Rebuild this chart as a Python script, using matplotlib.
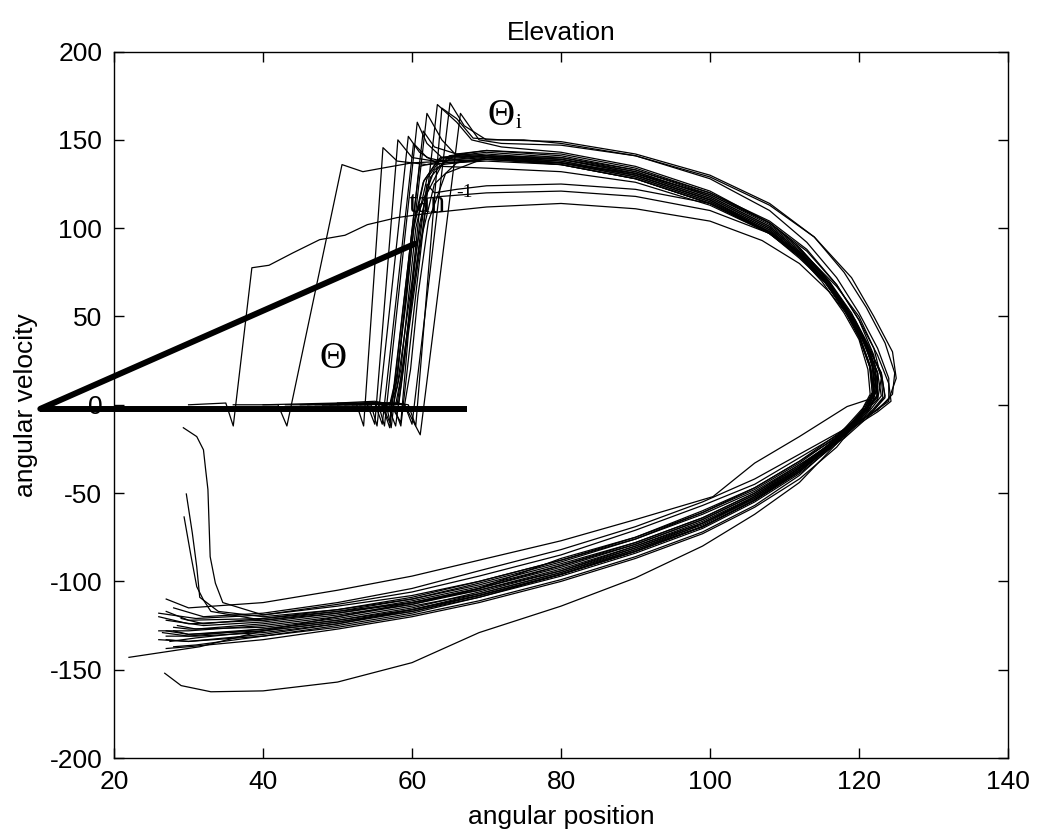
import matplotlib
matplotlib.use("Agg")
import matplotlib.pyplot as plt

# Elevation phase plot: angular position vs angular velocity, one line per trial

pos_01 = [52, 56, 57.5, 58.5, 59.5, 60.5, 62, 64, 70, 80, 90, 100, 108, 112, 115, 118, 120, 121.5, 122, 121, 117, 112, 106, 99, 90, 80, 69, 60, 50, 40, 30, 28]
vel_01 = [1, 1, 0, 20, 60, 100, 128, 140, 142, 139, 131, 117, 100, 86, 73, 55, 40, 22, 8, -2, -20, -37, -53, -68, -81, -95, -107, -114, -121, -126, -127, -126]

pos_02 = [48, 55, 57, 58, 59, 60, 61.5, 63.5, 70, 80, 90, 100, 108, 112.5, 115.5, 118.5, 120.5, 122, 122.5, 121.3, 117, 112, 106, 99, 90, 80, 69, 60, 50, 40, 31, 27]
vel_02 = [0, 1, -1, 15, 55, 98, 126, 139, 141, 137, 129, 115, 98, 84, 71, 53, 38, 20, 6, -3, -22, -39, -55, -70, -84, -97, -109, -117, -124, -129, -131, -131]

pos_03 = [50, 55, 57.5, 58.5, 63.4, 66, 68, 72, 80, 90, 100, 108, 112, 116, 119, 121, 123, 123.5, 122, 118, 112, 106, 99, 90, 80, 69, 60, 50, 40, 32, 27]
vel_03 = [1, 2, 0, -12, 170, 160, 150, 146, 143, 135, 121, 103, 89, 70, 50, 35, 18, 5, -3, -18, -35, -50, -64, -78, -91, -103, -111, -118, -123, -125, -122]

pos_04 = [53, 57, 59, 60, 65.1, 67, 70, 75, 80, 90, 100, 108, 113, 117, 120, 122.5, 124, 124, 122, 118, 112, 106, 99, 90, 80, 69, 60, 50, 40, 31, 26]
vel_04 = [0, 1, 0, -11, 171, 158, 150, 150, 148, 141, 128, 110, 92, 72, 52, 32, 15, 2, -4, -19, -34, -49, -62, -76, -88, -100, -108, -114, -119, -121, -118]

pos_05 = [47, 54, 56.5, 57.2, 62, 64, 66, 70, 80, 90, 100, 107, 112, 116, 119, 121, 122.5, 122.5, 121, 117, 112, 106, 99, 90, 80, 69, 60, 50, 40, 30, 27]
vel_05 = [0, 0, 1, -13, 165, 150, 141, 140, 137, 130, 116, 100, 84, 67, 50, 34, 18, 4, -2, -21, -40, -57, -72, -86, -99, -111, -119, -126, -131, -134, -133]

pos_06 = [45, 52, 55.5, 56.3, 60.7, 62, 64, 70, 80, 90, 100, 108, 112, 115, 118, 120, 121.8, 122, 120.8, 117, 112, 106, 99, 90, 80, 69, 60, 50, 40, 30, 26]
vel_06 = [0, 1, 0, -12, 160, 148, 140, 141, 139, 132, 118, 101, 87, 74, 56, 41, 23, 8, -2, -19, -36, -52, -66, -80, -93, -105, -113, -120, -125, -128, -128]

pos_07 = [40, 50, 54, 55, 58.1, 60, 63, 70, 80, 90, 100, 108, 112, 115, 118, 120, 121.5, 121.8, 120.6, 117, 112, 106, 99, 90, 80, 69, 60, 50, 40, 30, 28]
vel_07 = [0, 1, 0, -11, 150, 140, 138, 140, 138, 130, 116, 99, 85, 72, 54, 39, 21, 7, -2, -21, -38, -54, -69, -83, -96, -108, -116, -122, -127, -130, -128]

pos_08 = [43, 50, 52.5, 53.5, 56.1, 58, 62, 70, 80, 90, 100, 108, 112, 115, 118, 120, 121.2, 121.5, 120.5, 116, 110, 104, 97, 90, 80, 69, 60, 50, 40, 31, 28]
vel_08 = [0, 0, 1, -12, 145.6, 138, 136, 139, 137, 129, 115, 98, 84, 70, 52, 37, 20, 6, -2, -23, -42, -57, -71, -82, -96, -109, -118, -125, -131, -136, -137]

pos_09 = [36, 42, 43.2, 50.6, 53.4, 56, 60, 65, 70, 80, 90, 100, 108, 113, 117, 120, 122, 122.5, 121.5, 117, 112, 106, 99, 90, 80, 69, 60, 50, 40, 32, 29]
vel_09 = [0, 0, -12, 136, 132, 134, 137, 138, 139, 137, 131, 119, 103, 87, 68, 48, 28, 10, -2, -17, -32, -47, -60, -75, -88, -100, -109, -116, -121, -124, -121]

pos_10 = [30, 35, 36, 38.5, 40.8, 44, 47.6, 51, 54, 58, 62.8, 70, 80, 90, 100, 107, 112, 116, 119, 121, 122.5, 122.5, 121, 117, 112, 106, 99, 90, 80, 69, 60, 50, 40, 31.5, 22]
vel_10 = [0, 1, -12, 77.6, 79, 86, 93.5, 96, 102, 106, 108.8, 112, 114, 111, 104, 93, 80, 64, 48, 33, 18, 5, -2, -18, -33, -48, -61, -75, -87, -104, -112, -120, -128, -137, -143]

pos_11 = [50, 55, 56.8, 57.8, 62, 63, 66, 70, 80, 90, 100, 107, 112, 116, 119, 121, 123, 123.5, 122, 118, 112, 106, 99, 90, 80, 69, 60, 50, 40, 30, 26]
vel_11 = [0, 1, -1, -12, 125, 120, 122, 124, 125, 122, 114, 100, 86, 68, 50, 34, 18, 4, -3, -17, -34, -50, -64, -78, -90, -102, -110, -117, -122, -124, -120]

pos_12 = [52, 56, 58, 59, 61, 63, 66, 70, 80, 90, 100, 108, 112, 115, 118, 120, 121.5, 122, 121, 117, 112, 106, 99, 90, 80, 69, 60, 50, 40, 33, 29, 26.8]
vel_12 = [0, 1, 0, 30, 90, 125, 137, 140, 136, 128, 114, 98, 85, 72, 54, 38, 21, 7, -3, -22, -44, -62, -80, -98, -114, -129, -146, -157, -162, -162.5, -159, -152]

pos_13 = [55, 59, 61.1, 66.5, 69, 72, 80, 90, 100, 108, 114, 119, 122, 124.5, 125, 124, 122, 118, 112, 106, 99, 90, 80, 69, 60, 50, 40, 34.6, 33.6, 32.9, 32.6, 32.3, 32, 31.1, 29.3]
vel_13 = [1, 0, -17, 165, 150, 148, 147, 141, 129, 113, 95, 72, 50, 30, 15, 3, -4, -15, -30, -45, -57, -71, -85, -97, -106, -113, -119, -112, -101, -86, -48, -37, -25.5, -18, -13]

pos_14 = [49, 54, 56, 57, 61, 64, 70, 80, 90, 100, 108, 113, 117, 120, 122.5, 124, 124.3, 122.5, 118, 112, 106, 99, 90, 80, 69, 60, 50, 40, 34, 31.5, 31.1, 30.5, 29.7]
vel_14 = [0, 1, 0, -10, 135, 138, 141, 140, 133, 120, 104, 88, 68, 48, 28, 12, 2, -4, -16, -32, -47, -61, -76, -89, -101, -110, -116, -120, -117, -109, -91.8, -72.5, -50.5]

pos_15 = [51, 55.5, 57, 58, 60, 61, 63, 66, 70, 80, 90, 100, 108, 112, 116, 119, 121, 122.5, 123, 121.5, 117, 112, 106, 99, 90, 80, 69, 60, 50, 40, 33, 32, 31.1, 30.3, 29.4]
vel_15 = [0, 1, 0, 10, 70, 110, 133, 142, 144, 141, 133, 119, 102, 88, 70, 52, 35, 18, 5, -3, -19, -36, -51, -65, -79, -92, -104, -112, -118, -122, -117, -110.5, -103, -85, -63.5]

pos_16 = [54, 58, 59.5, 60.5, 64, 66, 68.2, 72, 80, 90, 100, 108, 114, 118, 121, 123.5, 124.8, 124.5, 122.5, 118, 112, 106, 99, 90, 80, 69, 60, 50, 40, 32, 28]
vel_16 = [0, 1, 0, -12, 168, 162, 151, 150, 149, 142, 130, 114, 95, 75, 55, 35, 18, 6, -3, -14, -28, -42, -55, -69, -82, -94, -104, -112, -118, -120, -115]

pos_17 = [53, 57, 58.2, 59, 60.3, 61.8, 64, 70, 80, 90, 100, 108, 112, 116, 119, 121, 122.3, 122, 118.4, 112, 106, 100.4, 90, 80, 69, 60, 50, 40, 30, 27]
vel_17 = [0, 1, 0, 25, 80, 118, 136, 139, 136, 128, 114, 97, 83, 67, 50, 33, 15, 4, -1, -18, -33, -52, -65, -77, -88, -97, -105, -112, -115, -110]

pos_18 = [52, 57, 58.5, 59.5, 62, 64, 70, 80, 90, 100, 108, 113, 117, 120, 122, 123, 122.5, 121, 117, 112, 106, 99, 90, 80, 69, 60, 50, 40, 31, 27.5]
vel_18 = [0, 1, -10, 40, 117, 118, 120, 121, 118, 110, 97, 84, 67, 50, 32, 15, 3, -3, -20, -38, -54, -69, -83, -96, -108, -117, -123, -128, -132, -134]

pos_19 = [50, 55, 57, 58, 59.2, 60.2, 61.6, 63.8, 70, 80, 90, 100, 108, 112, 115.5, 118.5, 120.5, 121.8, 122.2, 121, 117, 112, 106, 99, 90, 80, 69, 60, 50, 40, 30, 27]
vel_19 = [0, 1, 0, 18, 58, 99, 127, 140, 143, 140, 132, 118, 101, 87, 72, 54, 39, 21, 7, -2, -21, -38, -54, -69, -83, -96, -108, -116, -123, -128, -130, -128]

pos_20 = [49, 54, 56, 57, 61.5, 63, 66, 70, 80, 90, 100, 108, 112, 115, 118, 120, 121.6, 122, 121, 117, 112, 106, 99, 90, 80, 69, 60, 50, 40, 30, 26.5]
vel_20 = [0, 1, 0, -13, 155, 146, 142, 141, 138, 130, 116, 99, 85, 72, 54, 39, 21, 7, -2, -20, -36, -52, -67, -80, -94, -106, -115, -122, -127, -131, -129]

pos_21 = [46, 52, 54.5, 55.3, 59.5, 61, 64, 70, 80, 90, 100, 108, 113, 116.5, 119.5, 121.5, 123, 123.2, 121.8, 117, 112, 106, 99, 90, 80, 69, 60, 50, 40, 31, 28.5]
vel_21 = [0, 1, 0, -12, 152, 143, 135, 134, 132, 126, 113, 97, 81, 66, 48, 32, 16, 4, -3, -19, -35, -51, -65, -79, -91, -104, -113, -119, -124, -127, -125]

pos_22 = [51, 56, 57.8, 58.8, 60, 61, 62.5, 65, 70, 80, 90, 100, 108, 112, 115, 118, 120.3, 121.8, 122.3, 121.2, 117, 112, 106, 99, 90, 80, 69, 60, 50, 40, 30, 27]
vel_22 = [0, 1, 0, 22, 65, 102, 129, 141, 144, 142, 134, 120, 103, 89, 75, 57, 41, 23, 8, -2, -24, -42, -58, -73, -87, -100, -112, -120, -127, -133, -137, -138]

pos_23 = [48, 53, 55, 56, 60.2, 62, 65, 70, 80, 90, 100, 108, 112, 115.5, 118.5, 120.8, 122.2, 122.4, 121, 117, 112, 106, 99, 90, 80, 69, 60, 50, 40, 30, 27]
vel_23 = [0, 0, 1, -11, 148, 140, 137, 138, 136, 128, 114, 97, 84, 70, 52, 36, 19, 5, -2, -20, -37, -53, -67, -81, -94, -105, -112, -117, -121, -122, -117]

pos_24 = [54, 58, 59, 59.8, 60.8, 62.2, 64.5, 70, 80, 90, 100, 108, 112, 115, 118, 120, 121.4, 121.8, 120.8, 117, 112, 106, 99, 90, 80, 69, 60, 50, 40, 30, 26]
vel_24 = [0, 1, 0, 20, 62, 104, 131, 140, 139, 131, 117, 100, 86, 72, 55, 39, 22, 7, -2, -21, -37, -54, -69, -82, -95, -107, -116, -124, -130, -134, -133]

# hand-drawn construction lines (angle drawn over the plot)
guide_base_x = [10.1, 67.4]
guide_base_y = [-2.3, -2.3]
guide_slope_x = [10.1, 60.4]
guide_slope_y = [-2.3, 91.2]

x_ticks = [20, 40, 60, 80, 100, 120, 140]
y_ticks = [-200, -150, -100, -50, 0, 50, 100, 150, 200]

trials = [
    (pos_01, vel_01), (pos_02, vel_02), (pos_03, vel_03), (pos_04, vel_04),
    (pos_05, vel_05), (pos_06, vel_06), (pos_07, vel_07), (pos_08, vel_08),
    (pos_09, vel_09), (pos_10, vel_10), (pos_11, vel_11), (pos_12, vel_12),
    (pos_13, vel_13), (pos_14, vel_14), (pos_15, vel_15), (pos_16, vel_16),
    (pos_17, vel_17), (pos_18, vel_18), (pos_19, vel_19), (pos_20, vel_20),
    (pos_21, vel_21), (pos_22, vel_22), (pos_23, vel_23), (pos_24, vel_24),
]

plt.rcParams['font.family'] = ['Liberation Sans', 'DejaVu Sans']
plt.rcParams['axes.unicode_minus'] = False

fig = plt.figure(figsize=(10.37, 8.36), dpi=100)
ax = fig.add_axes([0.110, 0.0933, 0.862, 0.845])

for p, v in trials:
    ax.plot(p, v, color="black", lw=0.9, zorder=3)

ax.plot(guide_base_x, guide_base_y, color="black", lw=4.3,
        solid_capstyle="butt", clip_on=False, zorder=4)
ax.plot(guide_slope_x, guide_slope_y, color="black", lw=4.3,
        solid_capstyle="round", clip_on=False, zorder=4)

serif = ['Liberation Serif', 'DejaVu Serif']
ax.text(70.1, 158.6, "\u0398", family=serif, fontsize=27, ha="left", va="baseline", zorder=2)
ax.text(73.9, 157.0, "i", family=serif, fontsize=15, ha="left", va="baseline", zorder=2)
ax.text(59.6, 109.3, "tan", family=serif, fontsize=22, ha="left", va="baseline", zorder=5)
ax.text(65.9, 117.8, "-1", family=serif, fontsize=14, ha="left", va="baseline", zorder=5)
ax.text(47.6, 21.0, "\u0398", family=serif, fontsize=27, ha="left", va="baseline", zorder=2)

ax.set_xlim(20, 140)
ax.set_ylim(-200, 200)
ax.set_xticks(x_ticks)
ax.set_yticks(y_ticks)
ax.tick_params(direction="in", top=True, right=True, length=7, width=1,
               labelsize=19, pad=8.5)
for s in ax.spines.values():
    s.set_linewidth(1.0)

ax.set_xlabel("angular position", fontsize=19, labelpad=8)
ax.set_ylabel("angular velocity", fontsize=19, labelpad=8)
ax.set_title("Elevation", fontsize=19, pad=8)

fig.savefig("out.png", dpi=100)
